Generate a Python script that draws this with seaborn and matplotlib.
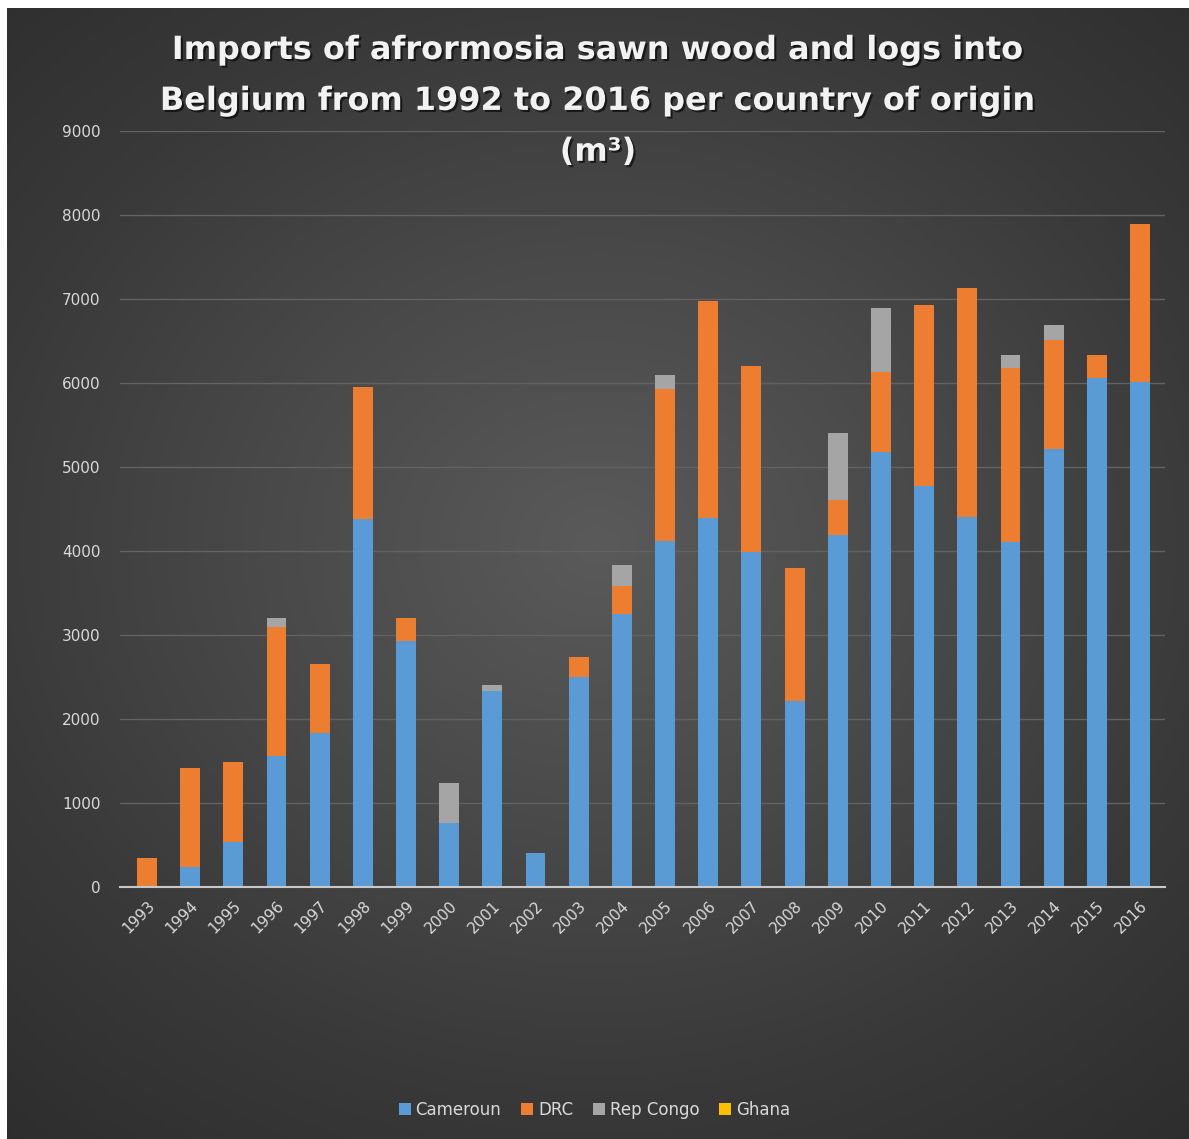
import matplotlib
matplotlib.use("Agg")
import matplotlib.pyplot as plt
import matplotlib.patheffects as pe
from matplotlib.patches import Patch
import numpy as np
import pandas as pd
import seaborn as sns

# Values (m3)
years = ['1993', '1994', '1995', '1996', '1997', '1998', '1999', '2000', '2001', '2002',
         '2003', '2004', '2005', '2006', '2007', '2008', '2009', '2010', '2011', '2012',
         '2013', '2014', '2015', '2016']
cameroun = [0, 240, 540, 1560, 1830, 4380, 2930, 760, 2330, 400,
            2500, 3250, 4120, 4390, 3990, 2210, 4190, 5180, 4770, 4400,
            4110, 5220, 6060, 6010]
drc = [340, 1180, 950, 1530, 820, 1570, 270, 0, 0, 0,
       240, 330, 1810, 2590, 2210, 1590, 420, 950, 2160, 2730,
       2070, 1290, 270, 1880]
rep_congo = [0, 0, 0, 110, 0, 0, 0, 480, 70, 0,
             0, 250, 160, 0, 0, 0, 790, 760, 0, 0,
             150, 180, 0, 0]
ghana = [0] * 24

series = ['Cameroun', 'DRC', 'Rep Congo', 'Ghana']
colors = ['#5B9BD5', '#ED7D31', '#A5A5A5', '#FFC000']

df = pd.DataFrame({'year': years, 'Cameroun': cameroun, 'DRC': drc,
                   'Rep Congo': rep_congo, 'Ghana': ghana})
# cumulative sums so the stack can be drawn back to front
cum = df[series].cumsum(axis=1)

fig = plt.figure(figsize=(11.89, 11.39), dpi=100, facecolor='white')

# dark radial background
bg = fig.add_axes([0.006, 0, 0.994, 1 - 8 / 1139])
yy, xx = np.mgrid[-1:1:300j, -1:1:300j]
r = np.sqrt((xx * 0.9) ** 2 + ((yy + 0.05) * 1.0) ** 2)
bg.imshow(r, cmap=sns.blend_palette(['#5a5a5a', '#4a4a4a', '#393939', '#2c2c2c'], as_cmap=True),
          aspect='auto', extent=[0, 1, 0, 1], vmin=0, vmax=1.45)
bg.axis('off')

ax = fig.add_axes([120 / 1189, 1 - 887 / 1139, 1045 / 1189, 756 / 1139])
ax.set_facecolor('none')

for i in range(len(series) - 1, -1, -1):
    sns.barplot(x=df['year'], y=cum[series[i]], color=colors[i], width=0.46,
                saturation=1, ax=ax, zorder=3)

ax.set_ylim(0, 9000)
ax.set_xlim(-0.625, 23.58)
ax.set_yticks(range(0, 9001, 1000))
ax.grid(axis='y', color='#626262', linewidth=1, zorder=0)
ax.grid(axis='x', visible=False)
for s in ['top', 'right', 'left']:
    ax.spines[s].set_visible(False)
ax.spines['bottom'].set_color('#c8c8c8')
ax.spines['bottom'].set_linewidth(1.5)
ax.spines['bottom'].set_zorder(4)
ax.tick_params(axis='both', length=0, colors='#d9d9d9', labelsize=11)
ax.tick_params(axis='y', pad=14)
ax.tick_params(axis='x', pad=8)
ax.set_xlabel('')
ax.set_ylabel('')
plt.setp(ax.get_xticklabels(), rotation=45, ha='right', rotation_mode='anchor')

fig.text(0.503, 1 - 35 / 1139,
         'Imports of afrormosia sawn wood and logs into\nBelgium from 1992 to 2016 per country of origin\n(m³)',
         ha='center', va='top', fontsize=23, fontweight='bold', color='#f2f2f2',
         linespacing=1.83,
         path_effects=[pe.withSimplePatchShadow(offset=(1.5, -1.5), shadow_rgbFace='black', alpha=0.6)])

handles = [Patch(facecolor=c, label=s) for s, c in zip(series, colors)]
fig.legend(handles=handles, loc='center', bbox_to_anchor=(0.5, 1 - 1110 / 1139), ncol=4,
           frameon=False, fontsize=12, labelcolor='#d9d9d9', handlelength=0.7,
           handleheight=0.7, handletextpad=0.3, columnspacing=1.2)

fig.savefig('out.png', dpi=100, facecolor=fig.get_facecolor())
